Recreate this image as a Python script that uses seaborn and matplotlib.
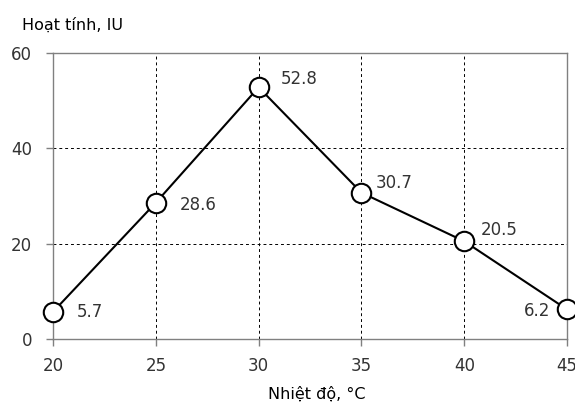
import numpy as np
import pandas as pd
import matplotlib
matplotlib.use("Agg")
import matplotlib.pyplot as plt
import seaborn as sns

# values
temperature = [20, 25, 30, 35, 40, 45]
activity = [5.7, 28.6, 52.8, 30.7, 20.5, 6.2]
point_labels = ["5.7", "28.6", "52.8", "30.7", "20.5", "6.2"]
# label offsets (points) and alignment for each value label
label_offsets = [(17, 0), (17, -1.5), (16, 6), (10, 7), (12, 8), (-12, -1)]
label_align = ["left", "left", "left", "left", "left", "right"]

x_ticks = [20, 25, 30, 35, 40, 45]
y_ticks = [0, 20, 40, 60]

df = pd.DataFrame({"temp": temperature, "activity": activity})

sns.set_theme(style="white")
plt.rcParams["font.family"] = ["DejaVu Sans"]

text_color = "#333333"
spine_color = "#808080"

fig = plt.figure(figsize=(5.75, 4.03), dpi=100)
ax = fig.add_axes([0.0922, 0.1588, 0.894, 0.7097])

sns.lineplot(data=df, x="temp", y="activity", ax=ax, color="black",
             linewidth=1.5, marker="o", markersize=14,
             markerfacecolor="white", markeredgecolor="black",
             markeredgewidth=1.5, clip_on=False, zorder=5)

for xv, yv, lab, off, ha in zip(temperature, activity, point_labels,
                                 label_offsets, label_align):
    ax.annotate(lab, (xv, yv), xytext=off, textcoords="offset points",
                ha=ha, va="center", fontsize=12, color=text_color)

ax.set_xlim(20, 45)
ax.set_ylim(0, 60)
ax.set_xticks(x_ticks)
ax.set_yticks(y_ticks)

ax.grid(True, linestyle=(0, (3, 3)), color="black", linewidth=0.7)
for side in ["top", "right", "left", "bottom"]:
    ax.spines[side].set_visible(True)
    ax.spines[side].set_color(spine_color)
    ax.spines[side].set_linewidth(1.0)

ax.tick_params(axis="both", which="major", direction="out", length=5,
               width=1.0, color=spine_color, labelsize=12,
               labelcolor=text_color, pad=8, bottom=True, left=True)
ax.tick_params(axis="y", pad=10)

ax.set_xlabel("")
ax.set_ylabel("")
fig.text(0.551, 0.022, "Nhiệt độ, °C", ha="center", va="center",
         fontsize=11.5, color="black")
fig.text(0.038, 0.938, "Hoạt tính, IU", ha="left", va="center",
         fontsize=11.5, color="black")

fig.savefig("out.png", dpi=100)
